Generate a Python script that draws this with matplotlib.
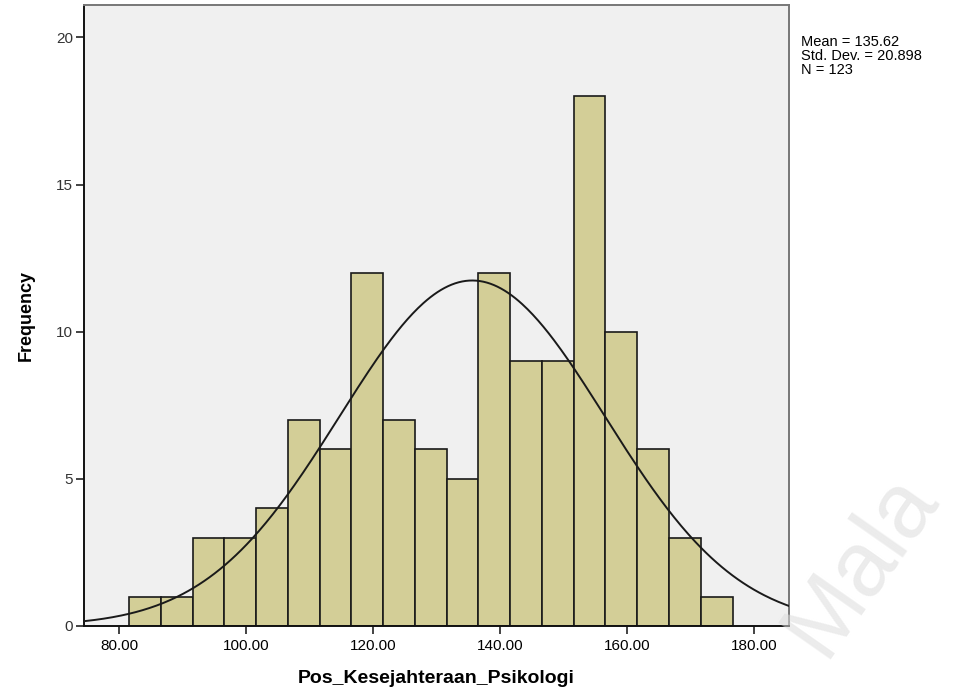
import numpy as np
import matplotlib
matplotlib.use("Agg")
import matplotlib.pyplot as plt

plt.rcParams['font.family'] = ['Liberation Sans', 'DejaVu Sans']

# histogram data
bin_start = 81.6
bin_width = 5.0
counts = [1, 1, 3, 3, 4, 7, 6, 12, 7, 6, 5, 12, 9, 9, 18, 10, 6, 3, 1]
mean = 135.62
std = 20.898
n = 123
xticks = [80, 100, 120, 140, 160, 180]
yticks = [0, 5, 10, 15, 20]

fig = plt.figure(figsize=(9.57, 6.93), dpi=100)
ax = fig.add_axes([0.0878, 0.0967, 0.7367, 0.896])
ax.set_facecolor('#f0f0f0')

edges = bin_start + bin_width * np.arange(len(counts))
ax.bar(edges, counts, width=bin_width, align='edge', color='#d3ce97',
       edgecolor='#1a1a1a', linewidth=1.2, zorder=2)

xs = np.linspace(74.5, 185.5, 400)
ys = n * bin_width / (std * np.sqrt(2 * np.pi)) * np.exp(-0.5 * ((xs - mean) / std) ** 2)
ax.plot(xs, ys, color='#1a1a1a', linewidth=1.4, zorder=3)

ax.set_xlim(74.5, 185.5)
ax.set_ylim(0, 21.1)
ax.set_xticks(xticks)
ax.set_xticklabels([f"{v:.2f}" for v in xticks])
ax.set_yticks(yticks)
ax.tick_params(axis='both', labelsize=11, length=6, width=1.2, color='#222222')
ax.tick_params(axis='y', pad=2, labelcolor='#333333')

for side in ['left', 'bottom']:
    ax.spines[side].set_color('#111111')
    ax.spines[side].set_linewidth(1.4)
for side in ['top', 'right']:
    ax.spines[side].set_color('#777777')
    ax.spines[side].set_linewidth(1.4)

ax.set_xlabel('Pos_Kesejahteraan_Psikologi', fontsize=14, fontweight='bold', labelpad=12)
ax.set_ylabel('Frequency', fontsize=13, fontweight='bold', labelpad=15)

fig.text(0.837, 0.950, f"Mean = {mean:.2f}\nStd. Dev. = {std:.3f}\nN = {n}",
         fontsize=10.5, va='top', ha='left', linespacing=1.0)

# faint watermark
fig.text(0.9, 0.185, 'Mala', fontsize=66, color='#dcdcdc', alpha=0.55,
         rotation=55, ha='center', va='center', zorder=10)

fig.savefig('out.png', dpi=100)
